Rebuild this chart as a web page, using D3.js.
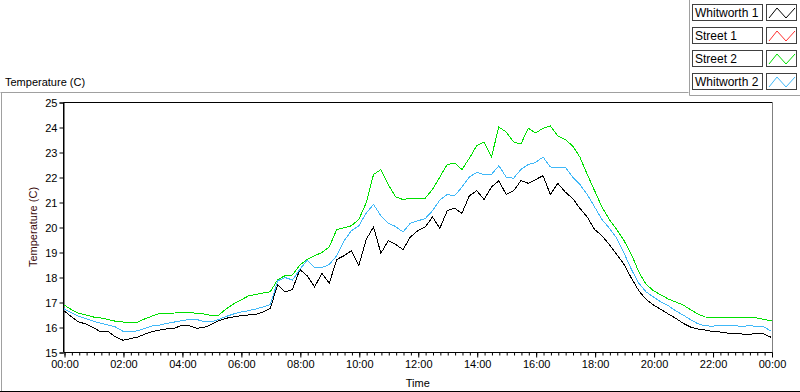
<!DOCTYPE html>
<html>
<head>
<meta charset="utf-8">
<script src="https://cdn.jsdelivr.net/npm/d3@7"></script>
<style>
  body { margin: 0; background: #fff; }
  svg { display: block; font-family: "Liberation Sans", Arial, sans-serif; }
</style>
</head>
<body>
<div id="chart"></div>
<script>
// hours of the day, one sample every 15 minutes
const hours = d3.range(0, 24.01, 0.25);

const seriesNames = ["Whitworth 1", "Street 1", "Street 2", "Whitworth 2"];
const seriesColors = ["#000000", "#ff3030", "#00e000", "#40b8f8"];

const whitworth1 = [
  16.65, 16.41, 16.20, 16.12, 15.97, 15.80, 15.82, 15.60, 15.47, 15.53, 15.60, 15.72,
  15.82, 15.88, 15.93, 15.95, 16.07, 16.05, 15.95, 15.98, 16.10, 16.25, 16.35, 16.40,
  16.45, 16.48, 16.50, 16.60, 16.75, 17.70, 17.40, 17.50, 18.30, 18.05, 17.60, 18.15,
  17.75, 18.70, 18.85, 19.05, 18.45, 19.50, 20.00, 18.95, 19.45, 19.30, 19.10, 19.60,
  19.85, 20.00, 20.40, 19.95, 20.65, 20.75, 20.55, 21.25, 21.45, 21.10, 21.60, 21.85,
  21.30, 21.45, 21.85, 21.75, 21.90, 22.05, 21.30, 21.75, 21.40, 21.15, 20.75, 20.40,
  19.90, 19.65, 19.30, 18.90, 18.50, 17.95, 17.45, 17.10, 16.88, 16.70, 16.52, 16.35,
  16.15, 16.00, 15.92, 15.88, 15.82, 15.80, 15.76, 15.73, 15.72, 15.70, 15.76, 15.72,
  15.58
];
const street1 = []; // listed in the legend, no trace drawn
const street2 = [
  16.88, 16.70, 16.55, 16.48, 16.40, 16.36, 16.30, 16.23, 16.20, 16.20, 16.20, 16.33,
  16.44, 16.55, 16.55, 16.56, 16.58, 16.58, 16.55, 16.52, 16.46, 16.48, 16.72, 16.92,
  17.08, 17.24, 17.30, 17.36, 17.41, 17.90, 18.05, 18.08, 18.48, 18.70, 18.85, 18.98,
  19.20, 19.90, 19.97, 20.05, 20.30, 20.96, 22.10, 22.30, 21.70, 21.20, 21.10, 21.15,
  21.12, 21.15, 21.50, 22.00, 22.50, 22.56, 22.30, 22.75, 23.25, 23.40, 22.80, 24.00,
  23.80, 23.40, 23.32, 23.95, 23.76, 23.95, 24.04, 23.65, 23.50, 23.25, 22.80, 22.10,
  21.45, 20.80, 20.30, 19.90, 19.45, 18.90, 18.20, 17.70, 17.45, 17.28, 17.12, 17.00,
  16.88, 16.70, 16.52, 16.40, 16.39, 16.38, 16.40, 16.38, 16.38, 16.37, 16.36, 16.30,
  16.25
];
const whitworth2 = [
  16.73, 16.57, 16.43, 16.33, 16.23, 16.15, 16.08, 16.00, 15.83, 15.80, 15.85, 15.95,
  16.05, 16.08, 16.15, 16.20, 16.25, 16.30, 16.30, 16.22, 16.20, 16.30, 16.42, 16.52,
  16.60, 16.65, 16.72, 16.80, 16.90, 17.85, 17.98, 17.88, 18.30, 18.68, 18.38, 18.38,
  18.50, 18.85, 19.45, 19.85, 20.05, 20.55, 20.90, 20.45, 20.15, 20.02, 19.80, 20.15,
  20.25, 20.33, 20.65, 21.08, 21.30, 21.25, 21.60, 22.00, 22.18, 22.10, 22.10, 22.45,
  22.00, 21.95, 22.30, 22.50, 22.58, 22.80, 22.40, 22.38, 22.40, 22.00, 21.70, 21.30,
  20.80, 20.30, 19.95, 19.55, 18.95, 18.30, 17.75, 17.40, 17.20, 17.00, 16.85, 16.65,
  16.48, 16.30, 16.13, 16.05, 16.03, 16.08, 16.07, 16.05, 16.03, 16.05, 16.03, 16.00,
  15.83
];

const yTicks = [15, 16, 17, 18, 19, 20, 21, 22, 23, 24, 25];
const xTicks = [0, 2, 4, 6, 8, 10, 12, 14, 16, 18, 20, 22, 24];

const W = 800, H = 392;
const plot = {left: 64, right: 771.5, top: 102, bottom: 352};

const svg = d3.select("#chart").append("svg")
    .attr("width", W)
    .attr("height", H);

// outer panel frame
svg.append("path")
    .attr("d", `M0.5,92.5H688.5M1.5,92.5V${H}`)
    .attr("fill", "none")
    .attr("stroke", "#a0a0a0");
svg.append("line")
    .attr("x1", 0).attr("x2", W)
    .attr("y1", H - 0.5).attr("y2", H - 0.5)
    .attr("stroke", "#000");

const x = d3.scaleLinear().domain([0, 24]).range([plot.left, plot.right]);
const y = d3.scaleLinear().domain([15, 25]).range([plot.bottom, plot.top]);

// plot box
svg.append("path")
    .attr("d", `M63.5,${plot.bottom}V102.5H772.5`)
    .attr("fill", "none").attr("stroke", "#000");
svg.append("line")
    .attr("x1", 772.5).attr("x2", 772.5)
    .attr("y1", 102).attr("y2", plot.bottom + 1)
    .attr("stroke", "#808080");

// y axis
const yAxis = svg.append("g")
    .attr("transform", "translate(63.5,0.5)")
    .call(d3.axisLeft(y).tickValues(yTicks).tickSize(4).tickPadding(2).tickFormat(d3.format("d")));
yAxis.select(".domain").attr("stroke", "#000");
yAxis.selectAll("text").attr("font-size", 11).attr("fill", "#000")
    .attr("font-family", "Liberation Sans, Arial, sans-serif");

// x axis, minor ticks every 15 minutes
const fmt = h => String(h % 24).padStart(2, "0") + ":00";
svg.append("g")
    .attr("transform", `translate(0.5,${plot.bottom + 0.5})`)
    .call(d3.axisBottom(x).tickValues(d3.range(0, 24.01, 0.25)).tickSize(3).tickFormat(""))
    .call(g => g.select(".domain").remove());
const xAxis = svg.append("g")
    .attr("transform", `translate(0.5,${plot.bottom + 0.5})`)
    .call(d3.axisBottom(x).tickValues(xTicks).tickSize(5).tickPadding(3).tickFormat(fmt));
xAxis.select(".domain").attr("d", `M${plot.left - 0.5},0H${plot.right}`);
xAxis.selectAll("text").attr("font-size", 11).attr("fill", "#000")
    .attr("font-family", "Liberation Sans, Arial, sans-serif");

// axis titles
svg.append("text")
    .attr("x", 5).attr("y", 86)
    .attr("font-size", 11)
    .text("Temperature (C)");
svg.append("text")
    .attr("transform", `translate(37,${(plot.top + plot.bottom) / 2}) rotate(-90)`)
    .attr("text-anchor", "middle")
    .attr("font-size", 11)
    .attr("fill", "#3a0a0a")
    .text("Temperature (C)");
svg.append("text")
    .attr("x", (plot.left + plot.right) / 2).attr("y", 387)
    .attr("text-anchor", "middle")
    .attr("font-size", 11)
    .text("Time");

// traces, drawn aliased like the original instrument plot
const line = d3.line()
    .x((d, i) => x(hours[i]))
    .y(d => y(d));
const traces = [whitworth1, street1, street2, whitworth2];
traces.forEach((vals, k) => {
    if (!vals.length) return;
    svg.append("path")
        .datum(vals)
        .attr("fill", "none")
        .attr("stroke", seriesColors[k])
        .attr("stroke-width", 1)
        .attr("shape-rendering", "crispEdges")
        .attr("d", line);
});

// legend
const legend = svg.append("g");
legend.append("path")
    .attr("d", "M689.5,0V95.5H800")
    .attr("fill", "none").attr("stroke", "#a0a0a0");
seriesNames.forEach((name, i) => {
    const top = 4 + i * 23;
    const row = legend.append("g").attr("transform", `translate(0,${top})`);
    row.append("rect")
        .attr("x", 692.5).attr("y", 0.5)
        .attr("width", 70).attr("height", 16)
        .attr("fill", "#fff").attr("stroke", "#404040");
    row.append("text")
        .attr("x", 695).attr("y", 13)
        .attr("font-size", 12)
        .text(name);
    row.append("rect")
        .attr("x", 766.5).attr("y", 0.5)
        .attr("width", 30).attr("height", 16)
        .attr("fill", "#fff").attr("stroke", "#404040");
    row.append("path")
        .attr("d", "M769,14L777,4L786,14L795,4")
        .attr("fill", "none")
        .attr("stroke", seriesColors[i]);
});
</script>
</body>
</html>
